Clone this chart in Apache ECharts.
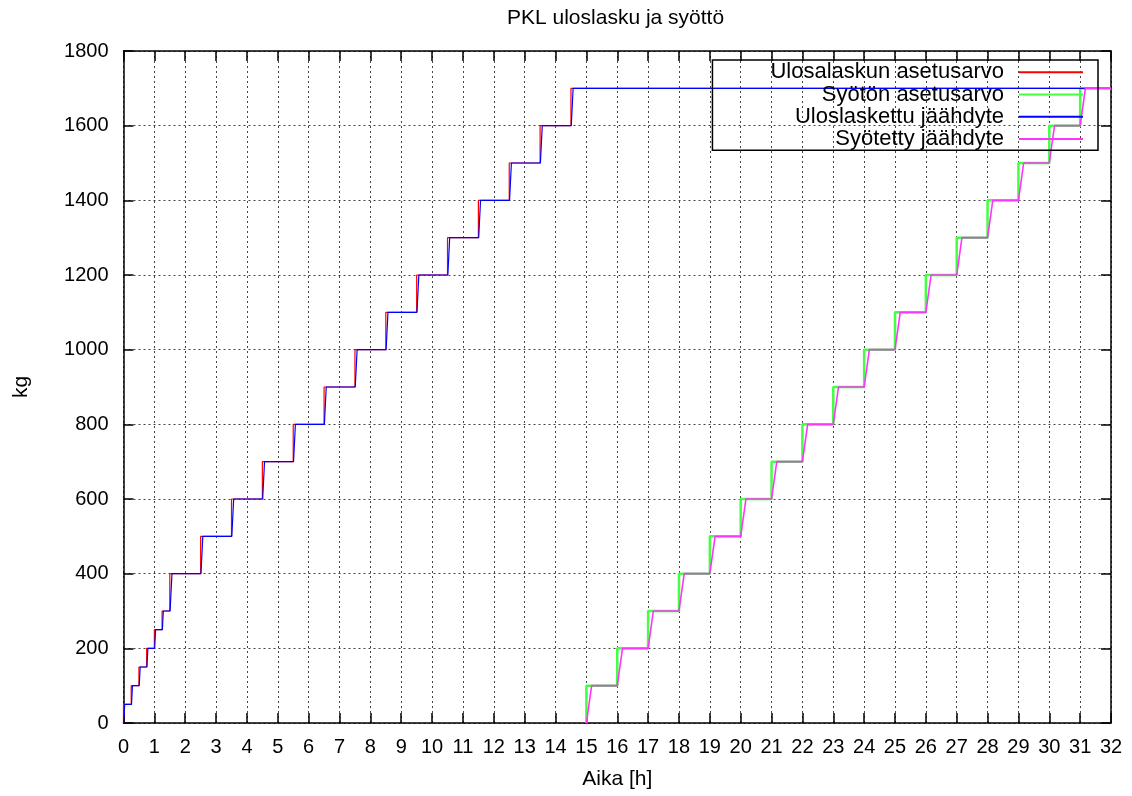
<!DOCTYPE html>
<html>
<head>
<meta charset="utf-8">
<script src="https://cdn.jsdelivr.net/npm/echarts@6/dist/echarts.min.js"></script>
<style>
html,body{margin:0;padding:0;background:#fff;}
#chart{width:1132px;height:796px;}
</style>
</head>
<body>
<div id="chart"></div>
<script>
// ---- data (time [h], kg) ----
const seriesNames = ['Ulosalaskun asetusarvo', 'Syötön asetusarvo', 'Uloslaskettu jäähdyte', 'Syötetty jäähdyte'];

const ulosAsetus = [[0,0],[0,50],[0.25,50],[0.25,100],[0.5,100],[0.5,150],[0.75,150],[0.75,200],[1,200],[1,250],[1.25,250],[1.25,300],[1.5,300],[1.5,400],[2.5,400],[2.5,500],[3.5,500],[3.5,600],[4.5,600],[4.5,700],[5.5,700],[5.5,800],[6.5,800],[6.5,900],[7.5,900],[7.5,1000],[8.5,1000],[8.5,1100],[9.5,1100],[9.5,1200],[10.5,1200],[10.5,1300],[11.5,1300],[11.5,1400],[12.5,1400],[12.5,1500],[13.5,1500],[13.5,1600],[14.5,1600],[14.5,1700],[32,1700]];

const syotonAsetus = [[15,0],[15,100],[16,100],[16,200],[17,200],[17,300],[18,300],[18,400],[19,400],[19,500],[20,500],[20,600],[21,600],[21,700],[22,700],[22,800],[23,800],[23,900],[24,900],[24,1000],[25,1000],[25,1100],[26,1100],[26,1200],[27,1200],[27,1300],[28,1300],[28,1400],[29,1400],[29,1500],[30,1500],[30,1600],[31,1600],[31,1700],[32,1700]];

const ulosLaskettu = [[0,0],[0.04,50],[0.26,50],[0.29,100],[0.51,100],[0.54,150],[0.76,150],[0.79,200],[1.01,200],[1.04,250],[1.26,250],[1.29,300],[1.51,300],[1.57,400],[2.51,400],[2.57,500],[3.51,500],[3.57,600],[4.51,600],[4.57,700],[5.51,700],[5.57,800],[6.51,800],[6.57,900],[7.51,900],[7.57,1000],[8.51,1000],[8.57,1100],[9.51,1100],[9.57,1200],[10.51,1200],[10.57,1300],[11.51,1300],[11.57,1400],[12.51,1400],[12.57,1500],[13.51,1500],[13.57,1600],[14.51,1600],[14.57,1700],[32,1700]];

const syotetty = [[15,0],[15.17,100],[16,100],[16.17,200],[17,200],[17.17,300],[18,300],[18.17,400],[19,400],[19.17,500],[20,500],[20.17,600],[21,600],[21.17,700],[22,700],[22.17,800],[23,800],[23.17,900],[24,900],[24.17,1000],[25,1000],[25.17,1100],[26,1100],[26.17,1200],[27,1200],[27.17,1300],[28,1300],[28.17,1400],[29,1400],[29.17,1500],[30,1500],[30.17,1600],[31,1600],[31.17,1700],[32,1700]];

const xMin = 0, xMax = 32, xStep = 1;
const yMin = 0, yMax = 1800, yStep = 200;

// ---- chart ----
const FONT = '"Liberation Sans", Arial, sans-serif';
const chart = echarts.init(document.getElementById('chart'), null, {renderer: 'canvas'});

const gridLine = {show: true, lineStyle: {color: '#444', width: 1, type: [2, 3]}};
const border = {show: true, onZero: false, lineStyle: {color: '#000', width: 1.5}};
const tick = {show: true, inside: true, length: 10, lineStyle: {color: '#000', width: 1.5}};

chart.setOption({
  animation: false,
  backgroundColor: '#fff',
  textStyle: {fontFamily: FONT, color: '#000'},
  title: {
    text: 'PKL uloslasku ja syöttö',
    left: 502, top: 3,
    textStyle: {fontFamily: FONT, fontSize: 21, fontWeight: 'normal', color: '#000'}
  },
  grid: {left: 123.5, right: 21, top: 51, bottom: 73, containLabel: false},
  legend: {
    orient: 'vertical',
    align: 'right',
    right: 34, top: 60,
    itemWidth: 64, itemHeight: 14, itemGap: 0,
    padding: [1, 14, 0, 58],
    borderColor: '#000', borderWidth: 1.5,
    backgroundColor: 'transparent',
    itemStyle: {opacity: 0},
    textStyle: {fontFamily: FONT, fontSize: 22, lineHeight: 22.3, color: '#000', padding: [0, 10, 0, 0]},
    data: seriesNames.map(n => ({name: n}))
  },
  xAxis: [{
    type: 'value', min: xMin, max: xMax, interval: xStep, position: 'bottom',
    name: 'Aika [h]', nameLocation: 'middle', nameGap: 46,
    nameTextStyle: {fontFamily: FONT, fontSize: 21, color: '#000'},
    axisLine: border, axisTick: tick, splitLine: gridLine,
    axisLabel: {fontFamily: FONT, fontSize: 20, color: '#000', margin: 14, formatter: v => String(v)}
  }, {
    type: 'value', min: xMin, max: xMax, interval: xStep, position: 'top',
    axisLine: border, axisTick: tick, splitLine: {show: false}, axisLabel: {show: false}
  }],
  yAxis: [{
    type: 'value', min: yMin, max: yMax, interval: yStep, position: 'left',
    name: 'kg', nameLocation: 'middle', nameGap: 92, nameRotate: 90,
    nameTextStyle: {fontFamily: FONT, fontSize: 21, color: '#000'},
    axisLine: border, axisTick: tick, splitLine: gridLine,
    axisLabel: {fontFamily: FONT, fontSize: 20, color: '#000', margin: 15, formatter: v => String(v)}
  }, {
    type: 'value', min: yMin, max: yMax, interval: yStep, position: 'right',
    axisLine: border, axisTick: tick, splitLine: {show: false}, axisLabel: {show: false}
  }],
  series: [
    {name: seriesNames[0], type: 'line', data: ulosAsetus, symbol: 'none', color: '#ff0000',
     lineStyle: {color: '#ff0000', width: 1.2}},
    {name: seriesNames[1], type: 'line', data: syotonAsetus, symbol: 'none', color: '#44ff44',
     lineStyle: {color: '#44ff44', width: 2.5}},
    {name: seriesNames[2], type: 'line', data: ulosLaskettu, symbol: 'none', color: '#0000ff',
     lineStyle: {color: '#0000ff', width: 1.2}},
    {name: seriesNames[3], type: 'line', data: syotetty, symbol: 'none', color: '#ff33ff',
     lineStyle: {color: '#ff33ff', width: 1.6}}
  ]
});
</script>
</body>
</html>
